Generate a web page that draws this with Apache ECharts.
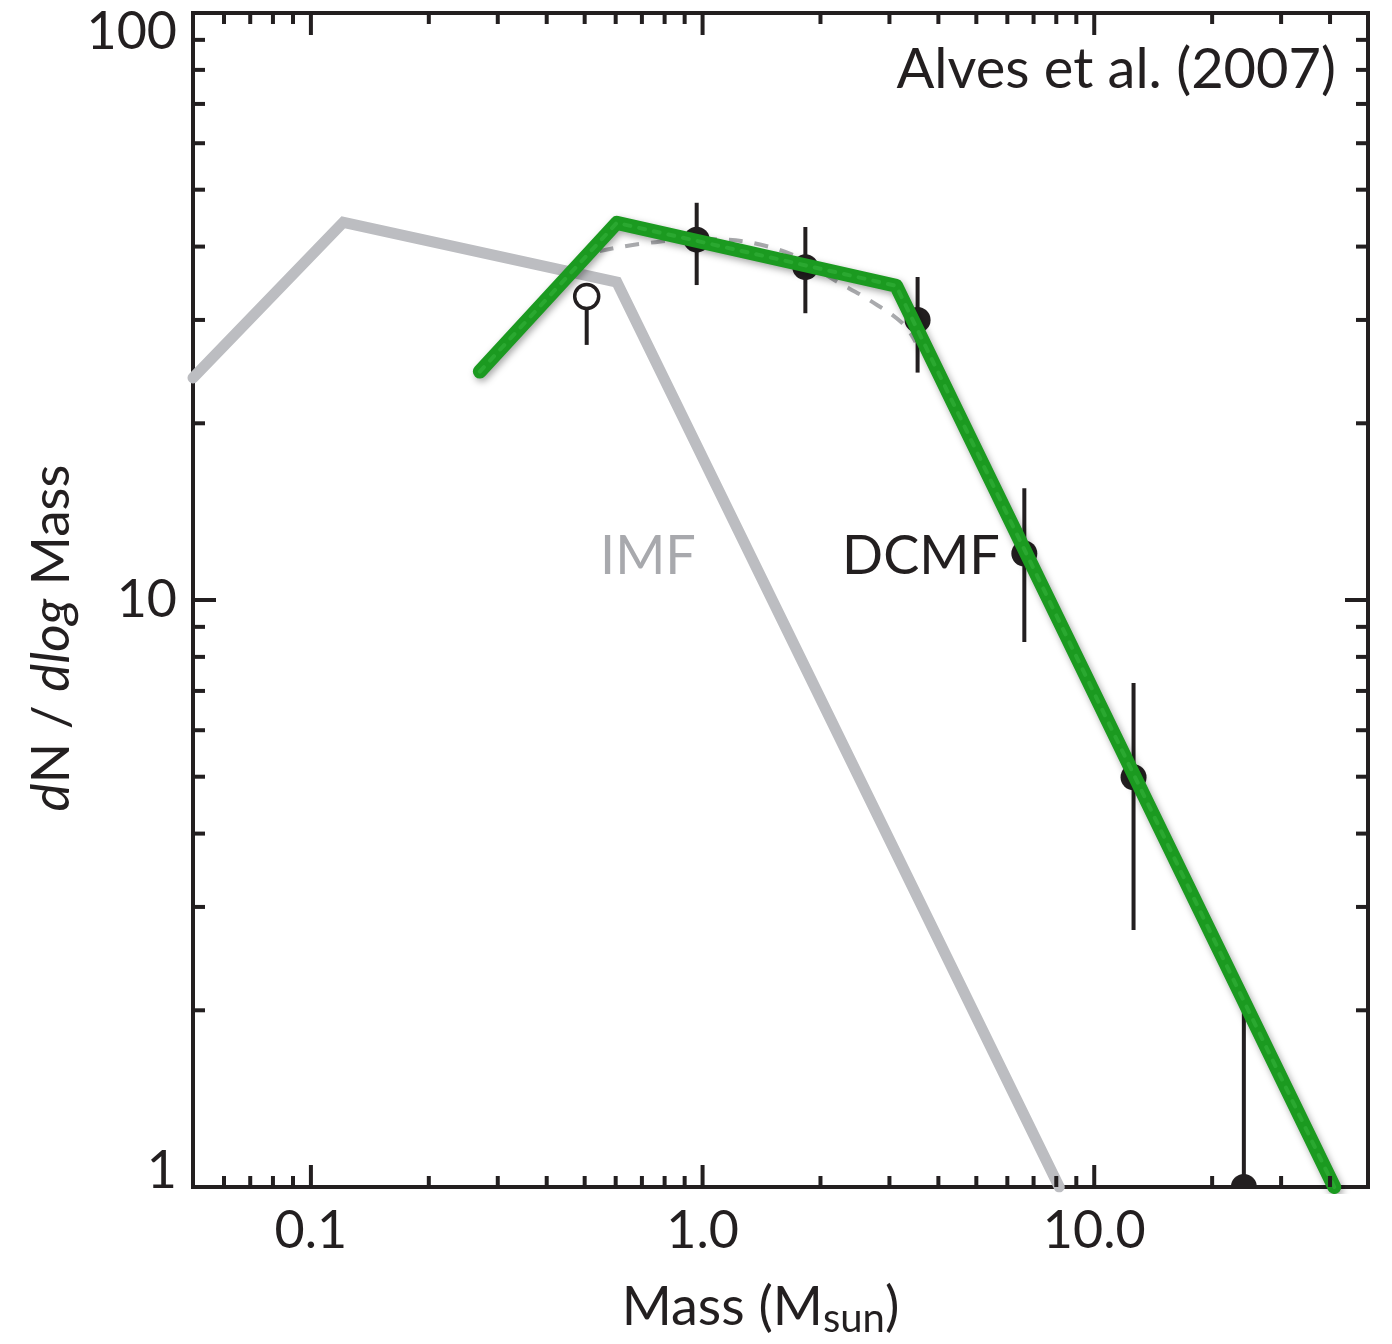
<!DOCTYPE html>
<html>
<head>
<meta charset="utf-8">
<title>DCMF vs IMF</title>
<script src="https://cdn.jsdelivr.net/npm/echarts@6/dist/echarts.min.js"></script>
<style>
  html, body { margin: 0; padding: 0; background: #fff; }
  #chart { width: 1392px; height: 1344px; }
</style>
</head>
<body>
<div id="chart"></div>
<script>
// axis ranges and ticks
const xMin = 0.05, xMax = 50;
const yMin = 1, yMax = 100;
const xMajorTicks = [0.1, 1, 10];
const xTickLabels = ['0.1', '1.0', '10.0'];
const xMinorTicks = [0.06, 0.07, 0.08, 0.09, 0.2, 0.3, 0.4, 0.5, 0.6, 0.7, 0.8, 0.9,
  2, 3, 4, 5, 6, 7, 8, 9, 20, 30, 40];
const yMajorTicks = [1, 10, 100];
const yMinorTicks = [2, 3, 4, 5, 6, 7, 8, 9, 20, 30, 40, 50, 60, 70, 80, 90];

// IMF (grey broken power law)
const imfMass = [0.05, 0.121, 0.604, 8.14];
const imfValue = [23.9, 44.0, 34.8, 1.0];

// DCMF fit (green)
const dcmfMass = [0.27, 0.604, 3.12, 41.0];
const dcmfValue = [24.5, 43.9, 34.3, 1.0];

// dashed grey curve under the green fit
const curveMass = [0.546, 0.69, 0.98, 1.57, 2.23, 2.67, 3.24, 3.5];
const curveValue = [39.3, 40.4, 41.2, 39.5, 34.7, 32.4, 29.6, 27.5];

// measured points with error bars
const pointMass = [0.966, 1.83, 3.54, 6.63, 12.6, 24.1];
const pointValue = [41.1, 36.9, 30.0, 12.0, 4.99, 1.0];
const pointLow = [34.4, 30.8, 24.4, 8.48, 2.74, 1.0];
const pointHigh = [47.5, 43.2, 35.5, 15.5, 7.22, 2.0];

// open (incomplete) point
const openMass = [0.506];
const openValue = [32.9];
const openLow = [27.2];
const openHigh = [32.9];

const ink = '#231f20';
const font = 'Lato, "Open Sans", sans-serif';

const chart = echarts.init(document.getElementById('chart'));

function xTickSeries(ticks, len) {
  return {
    type: 'custom',
    silent: true,
    z: 20,
    clip: false,
    encode: {x: 0, y: 1},
    data: ticks.map(v => [v, yMin]),
    renderItem(params, api) {
      const b = api.coord([api.value(0), yMin]);
      const t = api.coord([api.value(0), yMax]);
      const st = {stroke: ink, lineWidth: 4};
      return {type: 'group', children: [
        {type: 'line', shape: {x1: b[0], y1: b[1], x2: b[0], y2: b[1] - len}, style: st},
        {type: 'line', shape: {x1: t[0], y1: t[1], x2: t[0], y2: t[1] + len}, style: st}
      ]};
    }
  };
}

function yTickSeries(ticks, len) {
  return {
    type: 'custom',
    silent: true,
    z: 20,
    clip: false,
    encode: {x: 0, y: 1},
    data: ticks.map(v => [xMin, v]),
    renderItem(params, api) {
      const l = api.coord([xMin, api.value(1)]);
      const r = api.coord([xMax, api.value(1)]);
      const st = {stroke: ink, lineWidth: 4};
      return {type: 'group', children: [
        {type: 'line', shape: {x1: l[0], y1: l[1], x2: l[0] + len, y2: l[1]}, style: st},
        {type: 'line', shape: {x1: r[0], y1: r[1], x2: r[0] - len, y2: r[1]}, style: st}
      ]};
    }
  };
}

function pointSeries(mass, value, low, high, fill) {
  return {
    type: 'custom',
    z: 5,
    clip: true,
    encode: {x: 0, y: 1},
    data: mass.map((m, i) => [m, value[i], low[i], high[i]]),
    renderItem(params, api) {
      const c = api.coord([api.value(0), api.value(1)]);
      const lo = api.coord([api.value(0), api.value(2)]);
      const hi = api.coord([api.value(0), api.value(3)]);
      return {type: 'group', children: [
        {type: 'line', shape: {x1: lo[0], y1: lo[1], x2: hi[0], y2: hi[1]},
          style: {stroke: ink, lineWidth: 4}},
        {type: 'circle', shape: {cx: c[0], cy: c[1], r: fill ? 13 : 12},
          style: {fill: fill ? ink : '#fff', stroke: ink, lineWidth: fill ? 0 : 3.5}}
      ]};
    }
  };
}

chart.setOption({
  animation: false,
  grid: {
    left: 193, top: 13, right: 24, bottom: 157,
    show: true, borderColor: ink, borderWidth: 4, backgroundColor: 'transparent'
  },
  xAxis: {
    type: 'log',
    logBase: 10,
    min: xMin,
    max: xMax,
    splitLine: {show: false},
    axisLine: {show: false},
    axisTick: {show: false},
    axisLabel: {
      margin: 18,
      fontSize: 52,
      fontFamily: font,
      color: ink,
      showMinLabel: false,
      showMaxLabel: false,
      formatter(v) {
        const i = xMajorTicks.findIndex(t => Math.abs(t - v) / t < 1e-6);
        return i >= 0 ? xTickLabels[i] : '';
      }
    },
    name: '{a|Mass (M}{s|sun}{a|)}',
    nameLocation: 'middle',
    nameGap: 90,
    nameTextStyle: {
      padding: [0, 40, 0, 0],
      rich: {
        a: {fontSize: 54, fontFamily: font, color: ink},
        s: {fontSize: 40, fontFamily: font, color: ink, padding: [22, 0, 0, 0]}
      }
    }
  },
  yAxis: {
    type: 'log',
    logBase: 10,
    min: yMin,
    max: yMax,
    splitLine: {show: false},
    axisLine: {show: false},
    axisTick: {show: false},
    axisLabel: {
      margin: 16,
      fontSize: 52,
      fontFamily: font,
      color: ink,
      formatter(v) {
        if (Math.abs(v - 100) < 1e-6) return '{top|100}';
        if (Math.abs(v - 1) < 1e-6) return '{bot|1}';
        return '10';
      },
      rich: {
        top: {fontSize: 52, fontFamily: font, color: ink, padding: [38, 0, 0, 0]},
        bot: {fontSize: 52, fontFamily: font, color: ink, padding: [0, 0, 32, 0]}
      }
    }
  },
  graphic: [
    {
      type: 'text', x: 52, y: 638, rotation: Math.PI / 2,
      style: {
        text: '{i|d}{n|N / }{i|dlog}{n| Mass}',
        align: 'center', verticalAlign: 'middle',
        rich: {
          i: {fontSize: 53, fontFamily: font, fontStyle: 'italic', fill: ink},
          n: {fontSize: 53, fontFamily: font, fill: ink}
        }
      }
    },
    {
      type: 'text', x: 1336, y: 70,
      style: {text: 'Alves et al. (2007)', align: 'right', verticalAlign: 'middle',
        fontSize: 56, fontFamily: font, fill: ink}
    },
    {
      type: 'text', x: 648, y: 557,
      style: {text: 'IMF', align: 'center', verticalAlign: 'middle',
        fontSize: 54, fontFamily: font, fill: '#a8a9ad'}
    },
    {
      type: 'text', x: 921, y: 557,
      style: {text: 'DCMF', align: 'center', verticalAlign: 'middle',
        fontSize: 54, fontFamily: font, fill: ink}
    }
  ],
  series: [
    {
      name: 'IMF',
      type: 'line',
      z: 2,
      data: imfMass.map((m, i) => [m, imfValue[i]]),
      showSymbol: false,
      lineStyle: {color: '#bcbdc1', width: 11, cap: 'round', join: 'miter'}
    },
    {
      name: 'curve',
      type: 'line',
      z: 3,
      smooth: 0.4,
      data: curveMass.map((m, i) => [m, curveValue[i]]),
      showSymbol: false,
      lineStyle: {color: '#a9aaad', width: 4, type: [14, 12]}
    },
    pointSeries(openMass, openValue, openLow, openHigh, false),
    pointSeries(pointMass, pointValue, pointLow, pointHigh, true),
    {
      name: 'DCMF',
      type: 'line',
      z: 8,
      data: dcmfMass.map((m, i) => [m, dcmfValue[i]]),
      showSymbol: false,
      lineStyle: {
        color: '#1b9a20', width: 14, cap: 'round', join: 'round',
        shadowColor: 'rgba(0,0,0,0.35)', shadowBlur: 7, shadowOffsetX: 2, shadowOffsetY: 3
      }
    },
    {
      name: 'DCMF texture',
      type: 'line',
      z: 9,
      data: dcmfMass.map((m, i) => [m, dcmfValue[i]]),
      showSymbol: false,
      lineStyle: {color: '#2aa830', width: 4, type: [6, 9], cap: 'round'}
    },
    xTickSeries(xMajorTicks, 22),
    xTickSeries(xMinorTicks, 11),
    yTickSeries(yMajorTicks, 23),
    yTickSeries(yMinorTicks, 12)
  ]
});
</script>
</body>
</html>
